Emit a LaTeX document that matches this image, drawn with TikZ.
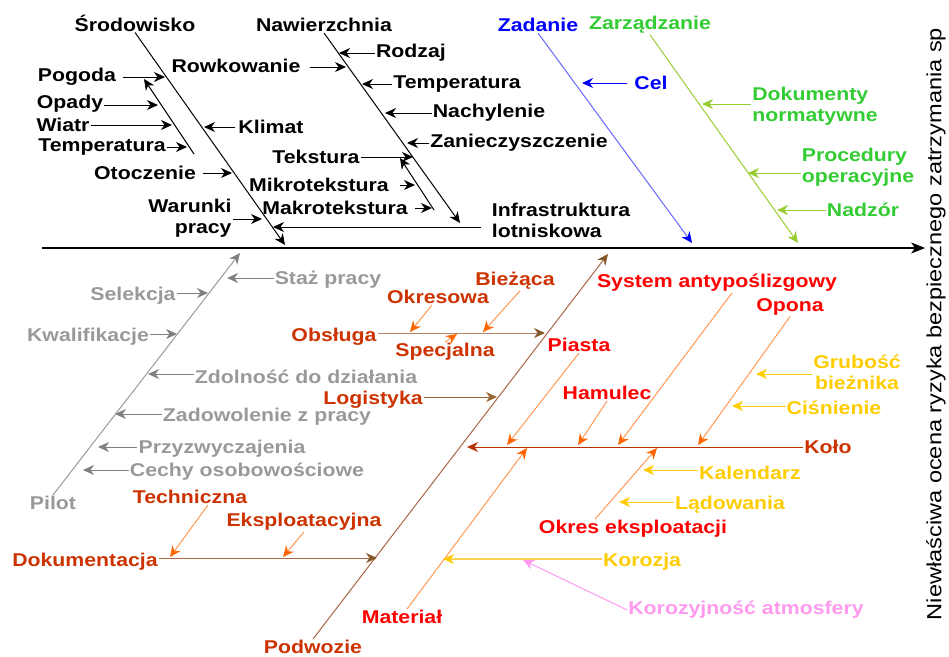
\documentclass[tikz,border=0pt]{standalone}
\usepackage{fontspec}
\setmainfont{Liberation Sans}[FakeStretch=1.15]
\usepackage{xcolor}
\usetikzlibrary{arrows.meta,calc}

\definecolor{txtorange}{HTML}{CC3300}
\definecolor{txtgreen}{HTML}{33CC33}
\definecolor{txtgrey}{HTML}{999999}
\definecolor{txtyellow}{HTML}{FFCC00}
\definecolor{txtpink}{HTML}{FF99EE}
\definecolor{lineblue}{HTML}{6666FF}
\definecolor{linegreen}{HTML}{99CC33}
\definecolor{linegrey}{HTML}{999999}
\definecolor{linebrown}{HTML}{AA6644}
\definecolor{lineorange}{HTML}{FF9955}
\definecolor{tiporange}{HTML}{FF6600}
\definecolor{linekolo}{HTML}{BB3300}
\definecolor{linekor}{HTML}{FFD24D}

\begin{document}
\begin{tikzpicture}[x=1pt,y=-1pt,
    font=\bfseries\fontsize{18.5}{21}\selectfont,
    every node/.style={inner sep=1pt},
    arrto/.style={-{Stealth[length=11pt,width=10pt,inset=3.5pt,color=#1]},line width=1pt},
    spine/.style={-{Stealth[length=14pt,width=11pt,inset=4pt]},line width=1.6pt}]
  \useasboundingbox (0,0) rectangle (949,656);

  % skutek
  \node[rotate=90,font=\mdseries\fontsize{20.5}{24}\selectfont] (eff) at (936,324)
    {Niewłaściwa ocena ryzyka bezpiecznego zatrzymania sp};
  \coordinate (tail) at (42,248);
  \draw[spine] (tail) -- (tail -| eff.north);

  % Srodowisko
  \node (sro) at (135,23) {Środowisko};
  \node (pog) at (77,77) {Pogoda};
  \node (opa) at (70,104) {Opady};
  \node (wia) at (63,125) {Wiatr};
  \node (tem1) at (102,147) {Temperatura};
  \node (oto) at (145,173) {Otoczenie};
  \node (kli) at (271,127) {Klimat};
  \node[align=right] (war) at (190,218) {Warunki\\pracy};
  \coordinate (sroT) at (285,245);
  \coordinate (pogT) at (165,77);
  \coordinate (subA) at (194,154);
  \coordinate (subB) at (144,79);
  \coordinate (opaT) at (158,105);
  \coordinate (wiaT) at (172,125);
  \coordinate (tem1T) at (187,147);
  \coordinate (otoT) at (232,173);
  \coordinate (kliT) at (204,127);
  \coordinate (warT) at (262,219);
  \draw[arrto=black] (sro.south) -- (sroT);
  \draw[arrto=black] (subA) -- (subB);
  \draw[arrto=black] ([xshift=6pt]pog.east |- pogT) -- (pogT);
  \draw[arrto=black] (opa.east |- opaT) -- (opaT);
  \draw[arrto=black] (wia.east |- wiaT) -- (wiaT);
  \draw[arrto=black] (tem1.east |- tem1T) -- (tem1T);
  \draw[arrto=black] ([xshift=6pt]oto.east |- otoT) -- (otoT);
  \draw[arrto=black] ([xshift=-2pt]kli.west |- kliT) -- (kliT);
  \draw[arrto=black] (war.east |- warT) -- (warT);

  % Nawierzchnia
  \node (naw) at (324,25) {Nawierzchnia};
  \node (row) at (236,66) {Rowkowanie};
  \node (rod) at (411,53) {Rodzaj};
  \node (tem2) at (457,84) {Temperatura};
  \node (nac) at (489,113) {Nachylenie};
  \node (zan) at (519,143) {Zanieczyszczenie};
  \node (tek) at (316,157) {Tekstura};
  \node (mik) at (319,185) {Mikrotekstura};
  \node (mak) at (335,208) {Makrotekstura};
  \node[align=left] (inf) at (561,220) {Infrastruktura\\lotniskowa};
  \coordinate (nawT) at (460,223);
  \coordinate (rodT) at (339,53);
  \coordinate (rowT) at (346,67);
  \coordinate (tem2T) at (362,84);
  \coordinate (nacT) at (385,113);
  \coordinate (zanT) at (407,143);
  \coordinate (tekT) at (413,157);
  \coordinate (subC) at (434,210);
  \coordinate (subD) at (400,158);
  \coordinate (mikT) at (415,185);
  \coordinate (makT) at (432,208);
  \coordinate (infT) at (273,227);
  \draw[arrto=black] (naw.south) -- (nawT);
  \draw[arrto=black] (subC) -- (subD);
  \draw[arrto=black] ([xshift=8pt]row.east |- rowT) -- (rowT);
  \draw[arrto=black] (rod.west |- rodT) -- (rodT);
  \draw[arrto=black] (tem2.west |- tem2T) -- (tem2T);
  \draw[arrto=black] (nac.west |- nacT) -- (nacT);
  \draw[arrto=black] (zan.west |- zanT) -- (zanT);
  \draw[arrto=black] (tek.east |- tekT) -- (tekT);
  \draw[arrto=black] ([xshift=10pt]mik.east |- mikT) -- (mikT);
  \draw[arrto=black] ([xshift=6pt]mak.east |- makT) -- (makT);
  \draw[arrto=black] ([xshift=-10pt]inf.west |- infT) -- (infT);

  % Zadanie
  \node[text=blue] (zad) at (538,25) {Zadanie};
  \node[text=blue] (cel) at (651,83) {Cel};
  \coordinate (zadT) at (692,243);
  \coordinate (celT) at (582,83);
  \draw[arrto=blue,lineblue] (zad.south) -- (zadT);
  \draw[arrto=blue,blue] ([xshift=-6pt]cel.west |- celT) -- (celT);

  % Zarzadzanie
  \node[text=txtgreen] (zar) at (650,25) {Zarządzanie};
  \node[text=txtgreen,align=left] (dokn) at (815,106) {Dokumenty\\normatywne};
  \node[text=txtgreen,align=left] (proc) at (858,167) {Procedury\\operacyjne};
  \node[text=txtgreen] (nad) at (863,210) {Nadzór};
  \coordinate (zarT) at (798,243);
  \coordinate (doknT) at (702,104);
  \coordinate (procT) at (748,173);
  \coordinate (nadT) at (777,210);
  \draw[arrto=linegreen,linegreen] (zar.south) -- (zarT);
  \draw[arrto=linegreen,linegreen] (dokn.west |- doknT) -- (doknT);
  \draw[arrto=linegreen,linegreen] (proc.west |- procT) -- (procT);
  \draw[arrto=linegreen,linegreen] (nad.west |- nadT) -- (nadT);

  % Pilot
  \node[text=txtgrey] (pil) at (53,503) {Pilot};
  \node[text=txtgrey] (staz) at (328,280) {Staż pracy};
  \node[text=txtgrey] (sel) at (133,296) {Selekcja};
  \node[text=txtgrey] (kwa) at (88,337) {Kwalifikacje};
  \node[text=txtgrey] (zdo) at (306,377) {Zdolność do działania};
  \node[text=txtgrey] (zdw) at (267,417) {Zadowolenie z pracy};
  \node[text=txtgrey] (prz) at (222,449) {Przyzwyczajenia};
  \node[text=txtgrey] (cec) at (247,472) {Cechy osobowościowe};
  \coordinate (pilT) at (240,253);
  \coordinate (stazT) at (227,278);
  \coordinate (selT) at (208,293);
  \coordinate (kwaT) at (177,334);
  \coordinate (zdoT) at (148,374);
  \coordinate (zdwT) at (115,414);
  \coordinate (przT) at (98,447);
  \coordinate (cecT) at (83,470);
  \draw[arrto=gray,linegrey] (pil.north) -- (pilT);
  \draw[arrto=gray,gray] (staz.west |- stazT) -- (stazT);
  \draw[arrto=gray,gray] (sel.east |- selT) -- (selT);
  \draw[arrto=gray,gray] (kwa.east |- kwaT) -- (kwaT);
  \draw[arrto=gray,gray] (zdo.west |- zdoT) -- (zdoT);
  \draw[arrto=gray,gray] (zdw.west |- zdwT) -- (zdwT);
  \draw[arrto=gray,gray] (prz.west |- przT) -- (przT);
  \draw[arrto=gray,gray] (cec.west |- cecT) -- (cecT);

  % Podwozie
  \node[text=txtorange] (pod) at (313,647) {Podwozie};
  \node[text=txtorange] (dok) at (85,562) {Dokumentacja};
  \node[text=txtorange] (tech) at (190,497) {Techniczna};
  \node[text=txtorange] (eksp) at (304,522) {Eksploatacyjna};
  \node[text=txtorange] (obs) at (334,337) {Obsługa};
  \node[text=txtorange] (okr) at (438,297) {Okresowa};
  \node[text=txtorange] (bie) at (515,281) {Bieżąca};
  \node[text=txtorange] (spe) at (445,352) {Specjalna};
  \node[text=txtorange] (log) at (373,400) {Logistyka};
  \node[text=txtorange] (kol) at (828,447) {Koło};
  \coordinate (podT) at (608,254);
  \coordinate (dokT) at (377,558);
  \coordinate (techT) at (170,557);
  \coordinate (ekspT) at (283,557);
  \coordinate (obsT) at (545,333);
  \coordinate (okrT) at (410,332);
  \coordinate (bieT) at (483,332);
  \coordinate (speT) at (457,334);
  \coordinate (logT) at (497,397);
  \coordinate (kolT) at (467,447);
  \draw[arrto=brown!70!black,linebrown] (pod.north) -- (podT);
  \draw[arrto=brown!70!black,linebrown] (dok.east |- dokT) -- (dokT);
  \draw[arrto=tiporange,lineorange] ([xshift=18pt]tech.south) -- (techT);
  \draw[arrto=tiporange,lineorange] (eksp.south) -- (ekspT);
  \draw[arrto=brown!70!black,linebrown!80] (obs.east |- obsT) -- (obsT);
  \draw[arrto=tiporange,lineorange] ([xshift=-6pt]okr.south) -- (okrT);
  \draw[arrto=tiporange,lineorange] ([xshift=5pt]bie.south) -- (bieT);
  \draw[arrto=tiporange,lineorange] (spe.north) -- (speT);
  \draw[arrto=brown!80!black,brown!80!black] (log.east |- logT) -- (logT);
  \draw[arrto=linekolo,linekolo] (kol.west) -- (kolT);

  % Kolo
  \node[text=red] (pia) at (579,345) {Piasta};
  \node[text=red] (ham) at (607,393) {Hamulec};
  \node[text=red] (sys) at (717,283) {System antypoślizgowy};
  \node[text=red] (opo) at (790,307) {Opona};
  \node[text=red] (mat) at (402,617) {Materiał};
  \node[text=red] (oke) at (633,529) {Okres eksploatacji};
  \coordinate (piaT) at (507,445);
  \coordinate (hamT) at (578,445);
  \coordinate (sysT) at (618,445);
  \coordinate (opoT) at (698,445);
  \coordinate (matT) at (527,448);
  \coordinate (okeT) at (657,448);
  \draw[arrto=tiporange,lineorange] (pia.south) -- (piaT);
  \draw[arrto=tiporange,lineorange] (ham.south) -- (hamT);
  \draw[arrto=tiporange,lineorange] ([xshift=15pt]sys.south) -- (sysT);
  \draw[arrto=tiporange,lineorange] (opo.south) -- (opoT);
  \draw[arrto=tiporange,lineorange] ([xshift=5pt]mat.north) -- (matT);
  \draw[arrto=tiporange,lineorange] ([xshift=-38pt]oke.north) -- (okeT);

  % Opona, Okres eksploatacji, Material
  \node[text=txtyellow,align=center] (gru) at (857,372) {Grubość\\bieżnika};
  \node[text=txtyellow] (cis) at (834,408) {Ciśnienie};
  \node[text=txtyellow] (kal) at (750,473) {Kalendarz};
  \node[text=txtyellow] (lad) at (730,505) {Lądowania};
  \node[text=txtyellow] (kor) at (642,562) {Korozja};
  \node[text=txtpink] (kat) at (746,610) {Korozyjność atmosfery};
  \coordinate (gruT) at (756,374);
  \coordinate (cisT) at (732,406);
  \coordinate (kalT) at (643,470);
  \coordinate (ladT) at (619,502);
  \coordinate (korT) at (443,559);
  \coordinate (katT) at (523,560);
  \draw[arrto=txtyellow,txtyellow] (gru.west |- gruT) -- (gruT);
  \draw[arrto=txtyellow,txtyellow] (cis.west |- cisT) -- (cisT);
  \draw[arrto=txtyellow,txtyellow] (kal.west |- kalT) -- (kalT);
  \draw[arrto=txtyellow,txtyellow] (lad.west |- ladT) -- (ladT);
  \draw[arrto=txtyellow,linekor,line width=1.4pt] (kor.west |- korT) -- (korT);
  \draw[arrto=txtpink,txtpink] (kat.west) -- (katT);
\end{tikzpicture}
\end{document}
